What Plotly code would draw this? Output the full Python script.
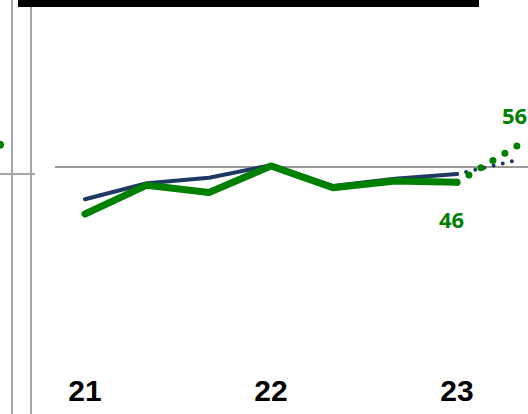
import plotly.graph_objects as go

# periodes (annee, un point tous les 4 mois)
periods = [21.0, 21.333, 21.667, 22.0, 22.333, 22.667, 23.0]
forecast_periods = [23.0, 23.333]

green_values = [37.3, 45.1, 43.1, 50.3, 44.4, 46.2, 45.9]
navy_values = [41.3, 45.6, 47.1, 50.5, 44.9, 46.8, 48.1]
green_forecast = [45.9, 56.0]
navy_forecast = [48.1, 52.0]

reference_value = 50
tick_vals = [21, 22, 23]
tick_text = ["21", "22", "23"]

# fragments du panneau voisin (coupe a gauche)
neighbour_x = [20.543]
neighbour_green = [56.0]
neighbour_ref = 48.1

GREEN = "#008000"
NAVY = "#203864"
GRAY = "#a6a6a6"

fig = go.Figure()

fig.add_trace(go.Scatter(
    x=periods, y=navy_values, mode="lines",
    line=dict(color=NAVY, width=4), showlegend=False
))
fig.add_trace(go.Scatter(
    x=periods, y=green_values, mode="lines",
    line=dict(color=GREEN, width=7), showlegend=False
))
fig.add_trace(go.Scatter(
    x=forecast_periods, y=navy_forecast, mode="lines",
    line=dict(color=NAVY, width=4, dash="0px,9.4px"),
    showlegend=False
))
fig.add_trace(go.Scatter(
    x=forecast_periods, y=green_forecast, mode="lines",
    line=dict(color=GREEN, width=7, dash="0px,14px"),
    showlegend=False
))
fig.add_trace(go.Scatter(
    x=neighbour_x, y=neighbour_green, mode="markers",
    marker=dict(color=GREEN, size=8), showlegend=False
))

# etiquettes de valeur
fig.add_annotation(x=periods[-1], y=green_values[-1], text=f"{green_values[-1]:.0f}",
                   showarrow=False, xshift=-5, yshift=-37,
                   font=dict(family="Noto Sans", size=22, color=GREEN, weight="bold"))
fig.add_annotation(x=forecast_periods[-1], y=green_forecast[-1], text=f"{green_forecast[-1]:.0f}",
                   showarrow=False, xshift=-4, yshift=30,
                   font=dict(family="Noto Sans", size=22, color=GREEN, weight="bold"))

# ligne de reference
fig.add_shape(type="line", xref="x", yref="y", x0=20.839, x1=23.4,
              y0=reference_value, y1=reference_value,
              line=dict(color="#999999", width=2), layer="below")

# cadre / bordures
fig.add_shape(type="rect", xref="paper", yref="paper",
              x0=18 / 528, x1=479 / 528, y0=1 - 7 / 370, y1=1.01,
              fillcolor="black", line=dict(width=0))
fig.add_shape(type="line", xref="paper", yref="paper",
              x0=12 / 528, x1=12 / 528, y0=-0.13, y1=1.01,
              line=dict(color=GRAY, width=2))
fig.add_shape(type="line", xref="paper", yref="paper",
              x0=31 / 528, x1=31 / 528, y0=-0.13, y1=1 - 7 / 370,
              line=dict(color=GRAY, width=2))
fig.add_shape(type="line", xref="paper", yref="y",
              x0=0, x1=35 / 528, y0=neighbour_ref, y1=neighbour_ref,
              line=dict(color=GRAY, width=2))

fig.update_layout(
    width=528, height=414,
    margin=dict(l=0, r=0, t=0, b=44),
    plot_bgcolor="white", paper_bgcolor="white",
    xaxis=dict(range=[20.543, 23.382], tickvals=tick_vals, ticktext=tick_text,
               showgrid=False, zeroline=False, showline=False, ticks="",
               tickfont=dict(family="Liberation Sans", size=30, color="black", weight="bold")),
    yaxis=dict(range=[-4.86, 95.14], showgrid=False, zeroline=False,
               showline=False, showticklabels=False, ticks=""),
)

# pas de marge dans la page, extremites arrondies pour les courbes (points ronds)
post = """
document.body.style.margin = '0';
document.querySelectorAll('.scatterlayer path.js-line').forEach(function (p) {
    p.style.strokeLinecap = 'round';
    p.style.strokeLinejoin = 'round';
});
"""
fig.write_html("out.html", config={"displayModeBar": False}, post_script=post)
